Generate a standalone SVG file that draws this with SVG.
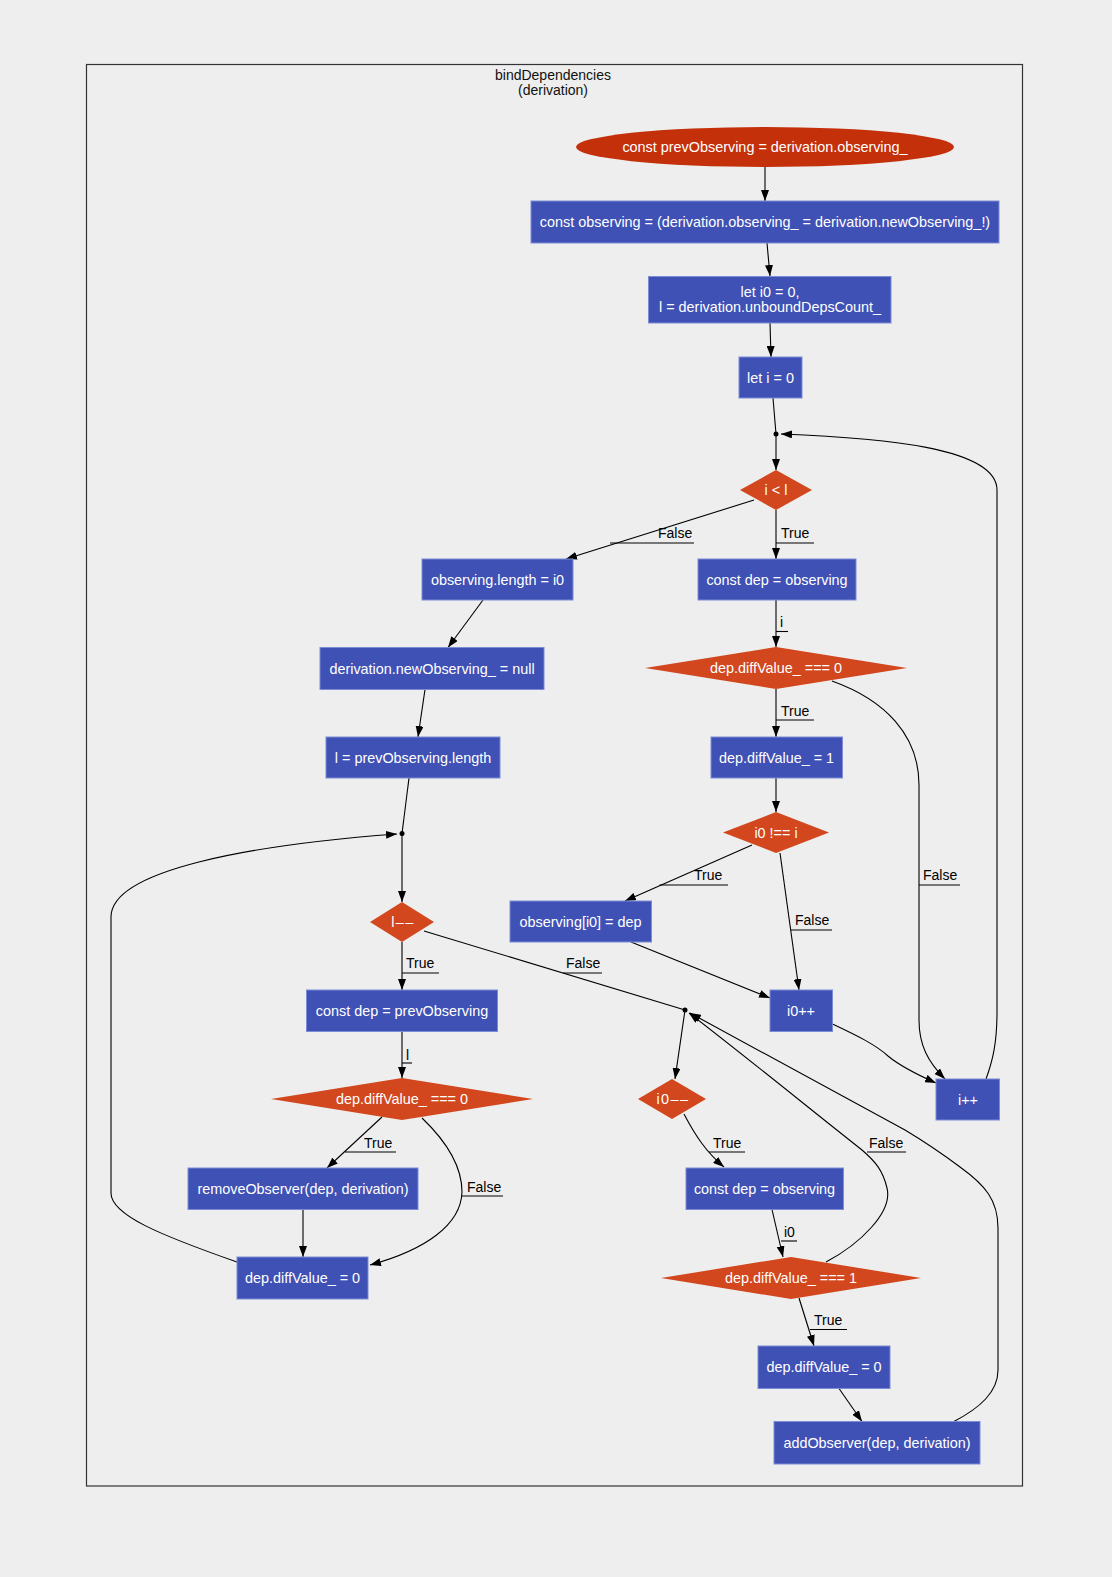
<svg xmlns="http://www.w3.org/2000/svg" width="1112" height="1577" viewBox="0 0 1112 1577">
<defs>
<style>
.bg{fill:#eeeeee}
.frame{fill:none;stroke:#333333;stroke-width:1.2}
.title{font-family:"Liberation Sans",Arial,sans-serif;font-size:14px;fill:#111111;text-anchor:middle}
.r{fill:#3f51b5;stroke:#7d8cd6;stroke-width:1}
.d{fill:#d2471d}
.e{fill:#c4300a}
.t{font-family:"Liberation Sans",Arial,sans-serif;font-size:14.4px;fill:#ffffff;text-anchor:middle;dominant-baseline:central}
.sp{letter-spacing:1.5px}
.edge{fill:none;stroke:#000000;stroke-width:1.1}
.lbl{font-family:"Liberation Sans",Arial,sans-serif;font-size:14px;fill:#000000;dominant-baseline:central}
.ul{stroke:#000000;stroke-width:1.1}
.pt{fill:#000000}
</style>
<marker id="ah" markerWidth="11" markerHeight="8" refX="11" refY="4" orient="auto" markerUnits="userSpaceOnUse">
<path d="M0,0 L11,4 L0,8 z" fill="#000000"/>
</marker>
</defs>
<rect class="bg" x="0" y="0" width="1112" height="1577"/>
<rect class="frame" x="86.5" y="64.5" width="936" height="1421.5"/>
<text class="title" x="553" y="79.5">bindDependencies</text>
<text class="title" x="553" y="94.5">(derivation)</text>

<g id="connectors">
<path class="edge" marker-end="url(#ah)" d="M765,167 L765,201"/>
<path class="edge" marker-end="url(#ah)" d="M767,243 L770,276"/>
<path class="edge" marker-end="url(#ah)" d="M770,323 L771,357"/>
<path class="edge" d="M773,398 L776,434"/>
<path class="edge" marker-end="url(#ah)" d="M776,434 L776,470"/>
<path class="edge" marker-end="url(#ah)" d="M754,500 L566,559"/>
<path class="edge" marker-end="url(#ah)" d="M776,510 L776,559"/>
<path class="edge" marker-end="url(#ah)" d="M776,600 L776,647"/>
<path class="edge" marker-end="url(#ah)" d="M483,600 L448,647.5"/>
<path class="edge" marker-end="url(#ah)" d="M425,689.5 L418,737"/>
<path class="edge" d="M409,778 L402,833.5"/>
<path class="edge" marker-end="url(#ah)" d="M402,833.5 L402,902"/>
<path class="edge" marker-end="url(#ah)" d="M776,689 L776,737"/>
<path class="edge" marker-end="url(#ah)" d="M776,778 L776,812"/>
<path class="edge" marker-end="url(#ah)" d="M752,845 L625,901"/>
<path class="edge" marker-end="url(#ah)" d="M780,853 L799,990"/>
<path class="edge" marker-end="url(#ah)" d="M832,681 C885,700 919,735 919,785 L919,1020 C919,1045 928,1062 945,1079"/>
<path class="edge" marker-end="url(#ah)" d="M631,942 L770,998"/>
<path class="edge" marker-end="url(#ah)" d="M832.5,1024 C858,1036 876,1045 888,1056 C900,1066 918,1075 936,1083"/>
<path class="edge" marker-end="url(#ah)" d="M986,1079 C993,1060 997,1042 997,1012 L997,490 C997,447 880,438 781,434"/>
<path class="edge" d="M424,931 L685,1010"/>
<path class="edge" marker-end="url(#ah)" d="M685,1010 L675,1079"/>
<path class="edge" marker-end="url(#ah)" d="M684,1114 C695,1135 706,1152 724,1167"/>
<path class="edge" marker-end="url(#ah)" d="M772,1209.5 L783,1257"/>
<path class="edge" marker-end="url(#ah)" d="M826,1262 C860,1244 893,1212 887,1188 C883,1171 876,1162 862,1150 C810,1109 740,1052 689,1013"/>
<path class="edge" marker-end="url(#ah)" d="M799,1298 L814,1346"/>
<path class="edge" marker-end="url(#ah)" d="M839,1388.5 L862,1421.5"/>
<path class="edge" marker-end="url(#ah)" d="M953,1422 C980,1408 998,1392 998,1370 L998,1228 C998,1200 985,1185 960,1167 C940,1152 925,1142 905,1130 L690,1013"/>
<path class="edge" marker-end="url(#ah)" d="M402,942 L402,990"/>
<path class="edge" marker-end="url(#ah)" d="M402,1031.5 L402,1078"/>
<path class="edge" marker-end="url(#ah)" d="M382,1117 L327,1168"/>
<path class="edge" marker-end="url(#ah)" d="M422,1118 C445,1140 462,1165 462,1192 C461,1225 425,1250 370,1265"/>
<path class="edge" marker-end="url(#ah)" d="M303,1209.5 L303,1257"/>
<path class="edge" marker-end="url(#ah)" d="M237,1262 C160,1235 111,1215 111,1193 L111,917 C111,870 250,845 397,834"/>
<circle class="pt" cx="776" cy="434" r="2.5"/>
<circle class="pt" cx="402" cy="833.5" r="2.5"/>
<circle class="pt" cx="685" cy="1010" r="2.5"/>

<text class="lbl" x="658" y="533">False</text><line class="ul" x1="610" y1="543" x2="694" y2="543"/>
<text class="lbl" x="781" y="533">True</text><line class="ul" x1="776" y1="543" x2="814" y2="543"/>
<text class="lbl" x="780" y="622">i</text><line class="ul" x1="776" y1="631.5" x2="788" y2="631.5"/>
<text class="lbl" x="781" y="711">True</text><line class="ul" x1="776" y1="720" x2="814" y2="720"/>
<text class="lbl" x="694" y="875">True</text><line class="ul" x1="659.5" y1="885" x2="728" y2="885"/>
<text class="lbl" x="795" y="920">False</text><line class="ul" x1="791" y1="930" x2="832" y2="930"/>
<text class="lbl" x="923" y="875">False</text><line class="ul" x1="919" y1="885" x2="960" y2="885"/>
<text class="lbl" x="566" y="963">False</text><line class="ul" x1="563" y1="973" x2="602" y2="973"/>
<text class="lbl" x="406" y="963">True</text><line class="ul" x1="402" y1="973" x2="439" y2="973"/>
<text class="lbl" x="406" y="1054.5">l</text><line class="ul" x1="402" y1="1063" x2="412" y2="1063"/>
<text class="lbl" x="364" y="1143">True</text><line class="ul" x1="345" y1="1152" x2="396" y2="1152"/>
<text class="lbl" x="467" y="1187">False</text><line class="ul" x1="461.5" y1="1196" x2="503" y2="1196"/>
<text class="lbl" x="713" y="1143">True</text><line class="ul" x1="709" y1="1152" x2="745" y2="1152"/>
<text class="lbl" x="869" y="1143">False</text><line class="ul" x1="867" y1="1152" x2="906" y2="1152"/>
<text class="lbl" x="784" y="1231.5">i0</text><line class="ul" x1="781" y1="1241" x2="797" y2="1241"/>
<text class="lbl" x="814" y="1320">True</text><line class="ul" x1="810" y1="1329.5" x2="847" y2="1329.5"/>
</g>

<g id="n1"><ellipse class="e" cx="765" cy="147" rx="189" ry="20"/><text class="t" x="765" y="147">const prevObserving = derivation.observing_</text></g>
<g id="n2"><rect class="r" x="531" y="201" width="468" height="42"/><text class="t" x="765" y="222">const observing = (derivation.observing_ = derivation.newObserving_!)</text></g>
<g id="n3"><rect class="r" x="648.5" y="276.5" width="242.5" height="46.5"/><text class="t" x="770" y="291.5">let i0 = 0,</text><text class="t" x="770" y="306.5">l = derivation.unboundDepsCount_</text></g>
<g id="n4"><rect class="r" x="739" y="357" width="63" height="41"/><text class="t" x="770.5" y="377.5">let i = 0</text></g>
<g id="n5"><polygon class="d" points="740,490 776,470 812,490 776,510"/><text class="t" x="776" y="490">i &lt; l</text></g>
<g id="n6"><rect class="r" x="422" y="559" width="151" height="41"/><text class="t" x="497.5" y="579.5">observing.length = i0</text></g>
<g id="n7"><rect class="r" x="698" y="559" width="158" height="41"/><text class="t" x="777" y="579.5">const dep = observing</text></g>
<g id="n8"><polygon class="d" points="645,668 776,647 907,668 776,689"/><text class="t" x="776" y="668">dep.diffValue_ === 0</text></g>
<g id="n9"><rect class="r" x="320" y="647.5" width="224" height="42"/><text class="t" x="432" y="668.5">derivation.newObserving_ = null</text></g>
<g id="n10"><rect class="r" x="326" y="737" width="174" height="41"/><text class="t" x="413" y="757.5">l = prevObserving.length</text></g>
<g id="n11"><rect class="r" x="711" y="737" width="131.5" height="41"/><text class="t" x="776.5" y="757.5">dep.diffValue_ = 1</text></g>
<g id="n12"><polygon class="d" points="723,832.5 776,812 829,832.5 776,853"/><text class="t" x="776" y="832.5">i0 !== i</text></g>
<g id="n13"><polygon class="d" points="370,922 402,902 434,922 402,942"/><text class="t sp" x="403" y="922">l––</text></g>
<g id="n14"><rect class="r" x="510" y="901" width="141.5" height="41"/><text class="t" x="580.5" y="921.5">observing[i0] = dep</text></g>
<g id="n15"><rect class="r" x="770" y="990" width="62.5" height="41.5"/><text class="t" x="801" y="1010.5">i0++</text></g>
<g id="n16"><rect class="r" x="306.5" y="990" width="191" height="41.5"/><text class="t" x="402" y="1010.5">const dep = prevObserving</text></g>
<g id="n17"><rect class="r" x="936" y="1079" width="63.5" height="41"/><text class="t" x="968" y="1099.5">i++</text></g>
<g id="n18"><polygon class="d" points="638,1099 672,1079 706,1099 672,1119"/><text class="t sp" x="673" y="1099">i0––</text></g>
<g id="n19"><polygon class="d" points="271,1099 402,1078 533,1099 402,1120"/><text class="t" x="402" y="1099">dep.diffValue_ === 0</text></g>
<g id="n20"><rect class="r" x="188" y="1168" width="230" height="41.5"/><text class="t" x="303" y="1188.5">removeObserver(dep, derivation)</text></g>
<g id="n21"><rect class="r" x="686" y="1168" width="157.5" height="41.5"/><text class="t" x="764.5" y="1188.5">const dep = observing</text></g>
<g id="n22"><rect class="r" x="237" y="1257" width="131" height="42"/><text class="t" x="302.5" y="1278">dep.diffValue_ = 0</text></g>
<g id="n23"><polygon class="d" points="661,1278 791,1257 921,1278 791,1299"/><text class="t" x="791" y="1278">dep.diffValue_ === 1</text></g>
<g id="n24"><rect class="r" x="758" y="1346" width="132" height="42.5"/><text class="t" x="824" y="1367">dep.diffValue_ = 0</text></g>
<g id="n25"><rect class="r" x="774" y="1421.5" width="206" height="42.5"/><text class="t" x="877" y="1442.5">addObserver(dep, derivation)</text></g>
</svg>
